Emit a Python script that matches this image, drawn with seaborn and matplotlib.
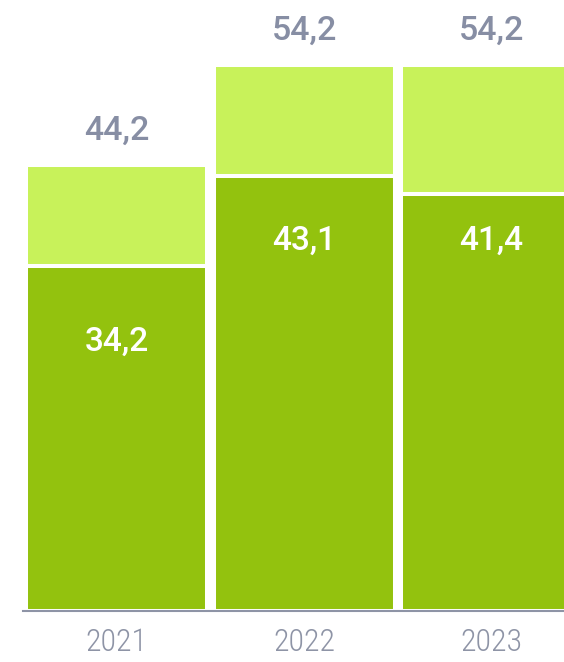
import matplotlib
matplotlib.use('Agg')
import matplotlib.pyplot as plt
import seaborn as sns
import pandas as pd

# data
years = ['2021', '2022', '2023']
totals = [44.2, 54.2, 54.2]
lower = [34.2, 43.1, 41.4]

light_green = '#C8F25A'
dark_green = '#93C20E'
label_grey = '#878EA4'
axis_grey = '#8E94A6'

df = pd.DataFrame({'year': years, 'total': totals, 'lower': lower})

sns.set_style('white')
plt.rcParams['font.family'] = ['Roboto', 'DejaVu Sans']

fig = plt.figure(figsize=(5.64, 6.62), dpi=100)
ax = fig.add_axes([23 / 564, 51 / 662, 541 / 564, 611 / 662])

# stacked bars: full height in light green, lower part in dark green on top
sns.barplot(data=df, x='year', y='total', color=light_green, saturation=1,
            width=0.965, edgecolor='white', linewidth=2.9, ax=ax)
sns.barplot(data=df, x='year', y='lower', color=dark_green, saturation=1,
            width=0.965, edgecolor='white', linewidth=2.9, ax=ax)

ax.set_xlim(-0.5, 2.387)
ax.set_ylim(0, 60.6)

# total above each bar
for i, t in enumerate(totals):
    ax.text(i, t + 2.5, f'{t:.1f}'.replace('.', ','), ha='center', va='baseline',
            fontsize=24.5, fontweight='medium', color=label_grey, clip_on=False)

# value of the lower part inside the bar
for i, (t, v) in enumerate(zip(totals, lower)):
    ax.text(i, t - 18.4, f'{v:.1f}'.replace('.', ','), ha='center', va='baseline',
            fontsize=24, fontweight='medium', color='white')

ax.set_xlabel('')
ax.set_ylabel('')
ax.set_yticks([])
for s in ['top', 'right', 'left']:
    ax.spines[s].set_visible(False)
ax.spines['bottom'].set_color(axis_grey)
ax.spines['bottom'].set_linewidth(1.5)
ax.spines['bottom'].set_zorder(3)
ax.tick_params(axis='x', length=0, pad=12)
for lab in ax.get_xticklabels():
    lab.set_family(['Roboto Condensed', 'Liberation Sans Narrow', 'Roboto'])
    lab.set_fontweight('light')
    lab.set_fontsize(23)
    lab.set_color(axis_grey)

fig.savefig('out.png', dpi=100)
